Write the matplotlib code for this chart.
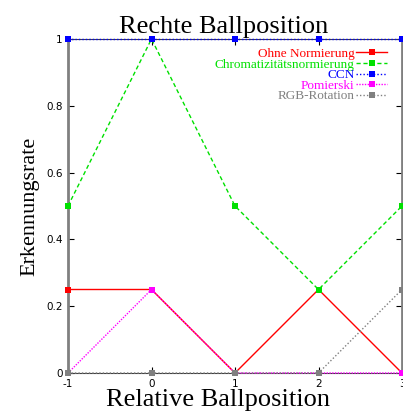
import matplotlib
matplotlib.use("Agg")
import matplotlib.pyplot as plt

x = [-1, 0, 1, 2, 3]
ohne = [0.25, 0.25, 0.0, 0.25, 0.0]
chroma = [0.5, 1.0, 0.5, 0.25, 0.5]
ccn = [1.0, 1.0, 1.0, 1.0, 1.0]
pomierski = [0.0, 0.25, 0.0, 0.0, 0.0]
rgb = [0.0, 0.0, 0.0, 0.0, 0.25]

series = [
    ("Ohne Normierung", ohne, "#ff0000", "-"),
    ("Chromatizitätsnormierung", chroma, "#00e000", (0, (3, 2))),
    ("CCN", ccn, "#0000ff", (0, (1, 1.5))),
    ("Pomierski", pomierski, "#ff00ff", (0, (1, 1))),
    ("RGB-Rotation", rgb, "#808080", (0, (1, 1.5))),
]

fig = plt.figure(figsize=(4.03, 4.18), dpi=100)
ax = fig.add_axes([68 / 403, 1 - 373 / 418, 334 / 403, 334 / 418])

for label, vals, color, ls in series:
    ax.plot(x, vals, color=color, linestyle=ls, linewidth=1.0,
            marker="s", markersize=4.5, markeredgewidth=0,
            label=label, clip_on=False, zorder=3)

ax.set_xlim(-1, 3)
ax.set_ylim(0, 1)
ax.set_xticks(x)
ax.set_xticklabels(["-1", "0", "1", "2", "3"])
ax.set_yticks([0, 0.2, 0.4, 0.6, 0.8, 1])
ax.set_yticklabels(["0", "0.2", "0.4", "0.6", "0.8", "1"])
ax.tick_params(direction="in", top=True, right=True, length=4, width=0.8,
               labelsize=7.5, pad=4)
for lbl in ax.get_xticklabels() + ax.get_yticklabels():
    lbl.set_family("DejaVu Sans")

for side in ["left", "right"]:
    ax.spines[side].set_color("#808080")
    ax.spines[side].set_linewidth(2)
for side in ["top", "bottom"]:
    ax.spines[side].set_color("#404040")
    ax.spines[side].set_linewidth(0.8)

serif = "Liberation Serif"
ax.set_title("Rechte Ballposition", fontsize=19, family=serif, pad=4, x=0.467)
ax.set_xlabel("Relative Ballposition", fontsize=19, family=serif, labelpad=0)
ax.xaxis.label.set_x(0.449)
ax.set_ylabel("Erkennungsrate", fontsize=16, family=serif, labelpad=5)

leg = ax.legend(loc="upper right", bbox_to_anchor=(0.972, 0.99),
                frameon=False, markerfirst=False, labelcolor="linecolor",
                prop={"family": serif, "size": 9.5}, handlelength=2.35,
                handletextpad=0.15, labelspacing=-0.12, borderaxespad=0)

fig.savefig("out.png", dpi=100)
